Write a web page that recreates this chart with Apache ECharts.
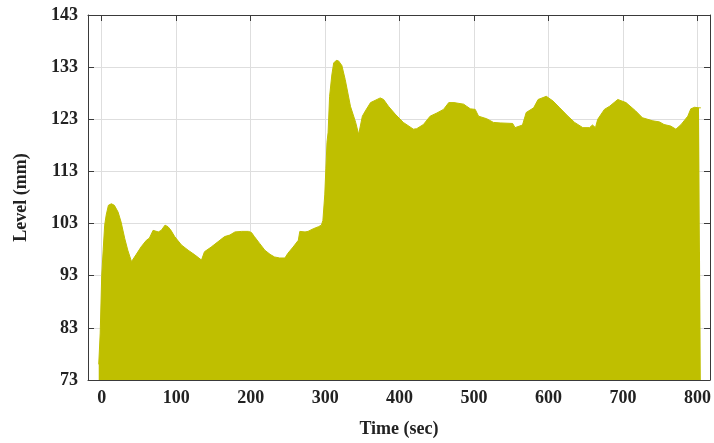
<!DOCTYPE html>
<html>
<head>
<meta charset="utf-8">
<script src="https://cdn.jsdelivr.net/npm/echarts@6/dist/echarts.min.js"></script>
<style>
html,body{margin:0;padding:0;background:#fff;}
#chart{width:714px;height:443px;}
</style>
</head>
<body>
<div id="chart"></div>
<script>
// Time (sec) and level (mm)
const times = [-4, -2, 0, 2, 4, 6, 9, 13, 17, 22, 26, 31, 35, 40, 42, 46, 53, 60, 64, 69, 76, 78, 80, 85, 89, 93, 98, 107, 116, 125, 134, 138, 147, 156, 165, 172, 179, 188, 197, 201, 205, 212, 219, 226, 232, 239, 246, 250, 257, 264, 266, 273, 277, 284, 291, 295, 297, 298, 299.5, 301, 302.5, 304, 306, 309, 311.5, 315, 318, 322.5, 327, 334, 341, 345, 350, 354, 361, 374, 378.5, 385, 394, 405, 418.5, 423, 432, 441, 450, 459, 466, 473, 486, 490, 495, 501.5, 506, 517, 526, 535, 551.8, 555, 565, 570, 580, 586, 597, 606, 615, 626, 635, 646, 655, 659, 663, 666, 675, 682, 693, 704, 717, 726, 740, 749, 755, 764, 771, 778, 787, 791, 796, 802, 804.5];
const levels = [76, 82, 93, 98, 102.7, 104.6, 106.5, 106.8, 106.5, 105.2, 103.3, 100.1, 97.9, 95.7, 96.0, 97.0, 98.55, 99.8, 100.2, 101.7, 101.4, 101.1, 101.7, 102.7, 102.4, 101.7, 100.5, 98.9, 97.9, 97.0, 96.0, 97.6, 98.5, 99.5, 100.5, 100.8, 101.4, 101.5, 101.5, 101.3, 100.5, 99.2, 97.9, 97.1, 96.6, 96.4, 96.4, 97.3, 98.5, 99.8, 101.5, 101.4, 101.5, 102.0, 102.4, 102.7, 103.6, 103.6, 108.5, 113.5, 118.6, 120.5, 127.4, 131.5, 133.8, 134.3, 134.2, 133.3, 130.6, 125.5, 122.4, 120.1, 123.6, 124.6, 126.2, 127.1, 126.8, 125.5, 124.0, 122.4, 121.1, 121.2, 122.0, 123.6, 124.2, 124.9, 126.2, 126.2, 125.9, 125.5, 125.0, 124.9, 123.6, 123.1, 122.4, 122.3, 122.2, 121.4, 121.9, 124.3, 125.2, 126.8, 127.4, 126.5, 125.2, 123.6, 122.4, 121.4, 121.4, 121.9, 121.4, 123.0, 124.9, 125.5, 126.8, 126.2, 124.6, 123.3, 122.7, 122.5, 122.0, 121.7, 121.1, 122.0, 123.6, 125.0, 125.3, 125.2, 125.2];
const xTicks = [0, 100, 200, 300, 400, 500, 600, 700, 800];
const yTicks = [73, 83, 93, 103, 113, 123, 133, 143];
const xTitle = 'Time (sec)';
const yTitle = 'Level (mm)';

const seriesData = times.map((t, i) => [t, levels[i]]);
const font = "'Liberation Serif', 'Times New Roman', serif";
const axisColor = '#3a3a3a';
const labelStyle = {color: '#222', fontFamily: font, fontWeight: 'bold', fontSize: 18};

const chart = echarts.init(document.getElementById('chart'), null, {renderer: 'canvas'});
chart.setOption({
  animation: false,
  backgroundColor: '#fff',
  grid: {left: 88, top: 15, right: 3, bottom: 60.5, containLabel: false},
  xAxis: [{
    type: 'value', position: 'bottom', min: -18.4, max: 816.8,
    name: xTitle, nameLocation: 'middle', nameGap: 40,
    nameTextStyle: {color: '#222', fontFamily: font, fontWeight: 'bold', fontSize: 18},
    axisLine: {show: true, onZero: false, lineStyle: {color: axisColor, width: 1}},
    axisTick: {show: true, inside: true, length: 6, customValues: xTicks, lineStyle: {color: axisColor}},
    axisLabel: Object.assign({margin: 9, customValues: xTicks}, labelStyle),
    splitLine: {show: true, lineStyle: {color: '#dedede', width: 1}}
  }, {
    type: 'value', position: 'top', min: -18.4, max: 816.8,
    axisLine: {show: true, onZero: false, lineStyle: {color: axisColor, width: 1}},
    axisTick: {show: true, inside: true, length: 6, customValues: xTicks, lineStyle: {color: axisColor}},
    axisLabel: {show: false},
    splitLine: {show: false}
  }],
  yAxis: [{
    type: 'value', position: 'left', min: yTicks[0], max: yTicks[yTicks.length - 1], interval: 10,
    name: yTitle, nameLocation: 'middle', nameGap: 58,
    nameTextStyle: {color: '#222', fontFamily: font, fontWeight: 'bold', fontSize: 18},
    axisLine: {show: true, onZero: false, lineStyle: {color: axisColor, width: 1}},
    axisTick: {show: true, inside: true, length: 6, lineStyle: {color: axisColor}},
    axisLabel: Object.assign({margin: 10}, labelStyle),
    splitLine: {show: true, lineStyle: {color: '#dedede', width: 1}}
  }, {
    type: 'value', position: 'right', min: yTicks[0], max: yTicks[yTicks.length - 1], interval: 10,
    axisLine: {show: true, onZero: false, lineStyle: {color: axisColor, width: 1}},
    axisTick: {show: true, inside: true, length: 6, lineStyle: {color: axisColor}},
    axisLabel: {show: false},
    splitLine: {show: false}
  }],
  series: [{
    type: 'line',
    xAxisIndex: 0, yAxisIndex: 0,
    data: seriesData,
    showSymbol: false,
    symbol: 'none',
    lineStyle: {color: '#BFBF00', width: 1},
    areaStyle: {color: '#BFBF00', opacity: 1, origin: 'start'},
    z: 1
  }]
});
</script>
</body>
</html>
